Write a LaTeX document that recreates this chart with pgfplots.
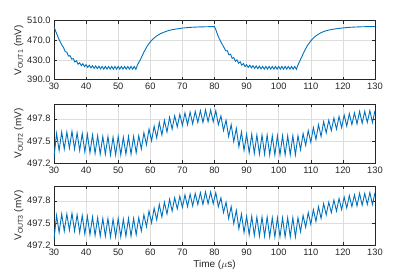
\documentclass[border=0pt]{standalone}
\usepackage{pgfplots}
\usepackage{pgfplotstable}
\pgfplotsset{compat=1.18}
\usepackage{fontspec}
\setmainfont{Liberation Sans}
\definecolor{mblue}{RGB}{0,114,189}
\definecolor{axgray}{RGB}{38,38,38}
\definecolor{gridgray}{RGB}{222,222,222}

\pgfplotstableread{
x y
30 498
30.5 489
31 481
31.5 473
32 466
32.5 460
33 455
33.5 447
34 446
34.5 438
35 439
35.5 432
36 433
36.5 426
37 428.5
37.5 421.5
38 424.5
38.5 418.5
39 422.5
39.5 416.5
40 420.5
40.5 415
41 419.5
41.5 414
42 418.5
42.5 413
43 418
43.5 412.5
44 417.5
44.5 412
45 417
45.5 411.5
46 417
46.5 411.5
47 417
47.5 411.5
48 417
48.5 411.5
49 417
49.5 411.5
50 417
50.5 411.5
51 417
51.5 411.5
52 417
52.5 411.5
53 417
53.5 411.5
54 417
54.5 411.5
55 417
55.5 411
56 420
56.5 426
57 432
57.5 439
58 446
58.5 452
59 458
60 467
61 474
62 479
63 483
64 486
65 488.5
66 490.5
67 492
68 493
70 495
72 496.3
75 497.3
78 497.8
80 498
80.5 490
81 481
81.5 473
82 467
82.5 461
83 455
83.5 448.5
84 449
84.5 440.5
85 442
85.5 433.5
86 435
86.5 427.5
87 430.5
87.5 423.5
88 426.5
88.5 419.5
89 423
89.5 416.5
90 420.5
90.5 415
91 419.5
91.5 414
92 418.5
92.5 413
93 418
93.5 412.5
94 417.5
94.5 412
95 417
95.5 411.5
96 417
96.5 411.5
97 417
97.5 411.5
98 417
98.5 411.5
99 417
99.5 411.5
100 417
100.5 411.5
101 417
101.5 411.5
102 417
102.5 411.5
103 417
103.5 411.5
104 417
104.5 411.5
105 417
105.5 411
106 420
106.5 427
107 434
107.5 441
108 448
108.5 454
109 460
110 469
111 476
112 481
113 485
114 488
115 490
116 491.5
117 492.7
118 493.7
120 495.3
122 496.5
125 497.5
128 498
130 498.2
}\voutone

\pgfplotstableread{
x y
30.0 497.28
30.8 497.60
31.6 497.37
32.4 497.62
33.2 497.39
34.0 497.62
34.8 497.40
35.6 497.63
36.4 497.39
37.2 497.61
38.0 497.37
38.8 497.60
39.6 497.35
40.4 497.59
41.2 497.34
42.0 497.58
42.8 497.33
43.6 497.57
44.4 497.32
45.2 497.56
46.0 497.32
46.8 497.56
47.6 497.31
48.4 497.55
49.2 497.31
50.0 497.56
50.8 497.31
51.6 497.55
52.4 497.32
53.2 497.56
54.0 497.32
54.8 497.56
55.6 497.34
56.4 497.57
57.2 497.39
58.0 497.61
58.8 497.45
59.6 497.66
60.4 497.50
61.2 497.70
62.0 497.54
62.8 497.75
63.6 497.58
64.4 497.78
65.2 497.62
66.0 497.82
66.8 497.66
67.6 497.84
68.4 497.69
69.2 497.86
70.0 497.71
70.8 497.88
71.6 497.72
72.4 497.89
73.2 497.73
74.0 497.90
74.8 497.75
75.6 497.91
76.4 497.75
77.2 497.92
78.0 497.76
78.8 497.92
79.6 497.76
80.4 497.91
81.2 497.72
82.0 497.84
82.8 497.64
83.6 497.78
84.4 497.56
85.2 497.72
86.0 497.49
86.8 497.67
87.6 497.42
88.4 497.62
89.2 497.37
90.0 497.59
90.8 497.34
91.6 497.59
92.4 497.33
93.2 497.58
94.0 497.32
94.8 497.58
95.6 497.32
96.4 497.58
97.2 497.31
98.0 497.57
98.8 497.31
99.6 497.57
100.4 497.31
101.2 497.57
102.0 497.31
102.8 497.57
103.6 497.31
104.4 497.57
105.2 497.31
106.0 497.57
106.8 497.38
107.6 497.60
108.4 497.44
109.2 497.64
110.0 497.48
110.8 497.68
111.6 497.52
112.4 497.72
113.2 497.56
114.0 497.76
114.8 497.61
115.6 497.78
116.4 497.64
117.2 497.81
118.0 497.66
118.8 497.83
119.6 497.68
120.4 497.85
121.2 497.70
122.0 497.87
122.8 497.72
123.6 497.88
124.4 497.73
125.2 497.90
126.0 497.74
126.8 497.90
127.6 497.75
128.4 497.91
129.2 497.75
130.0 497.91
}\vouttwo

\pgfplotsset{
  panel/.style={
    scale only axis,
    width=321pt, height=59pt,
    anchor=north west,
    xmin=30, xmax=130,
    xtick={30,40,...,130},
    tick align=inside,
    tick pos=both,
    major tick length=3pt,
    grid=major,
    major grid style={gridgray, line width=0.5pt},
    axis line style={axgray, line width=0.5pt},
    every tick/.style={axgray, line width=0.5pt},
    tick label style={text=axgray, font=\fontsize{9.3}{11}\selectfont},
    label style={text=axgray, font=\fontsize{10}{12}\selectfont},
    /pgf/number format/assume math mode=true,
    yticklabel style={/pgf/number format/.cd, fixed, fixed zerofill, precision=1},
    xticklabel style={/pgf/number format/.cd, fixed, precision=0},
    ylabel shift=-3pt,
  }
}

\begin{document}
\begin{tikzpicture}
\useasboundingbox (0,0) rectangle (415pt,-277pt);
\begin{axis}[panel, at={(54pt,-20.7pt)},
  ymin=390, ymax=510, ytick={390,430,470,510},
  ylabel={V\textsubscript{OUT1} (mV)}]
\addplot[mblue, line width=0.9pt] table[x=x,y=y] {\voutone};
\end{axis}
\begin{axis}[panel, at={(54pt,-104pt)},
  ymin=497.2, ymax=498.0, ytick={497.2,497.5,497.8},
  ylabel={V\textsubscript{OUT2} (mV)}]
\addplot[mblue, line width=0.9pt] table[x=x,y=y] {\vouttwo};
\end{axis}
\begin{axis}[panel, at={(54pt,-186pt)},
  ymin=497.2, ymax=498.0, ytick={497.2,497.5,497.8},
  ylabel={V\textsubscript{OUT3} (mV)},
  xlabel={Time ($\mu$s)}, xlabel shift=-2pt]
\addplot[mblue, line width=0.9pt] table[x=x,y=y] {\vouttwo};
\end{axis}
\end{tikzpicture}
\end{document}
